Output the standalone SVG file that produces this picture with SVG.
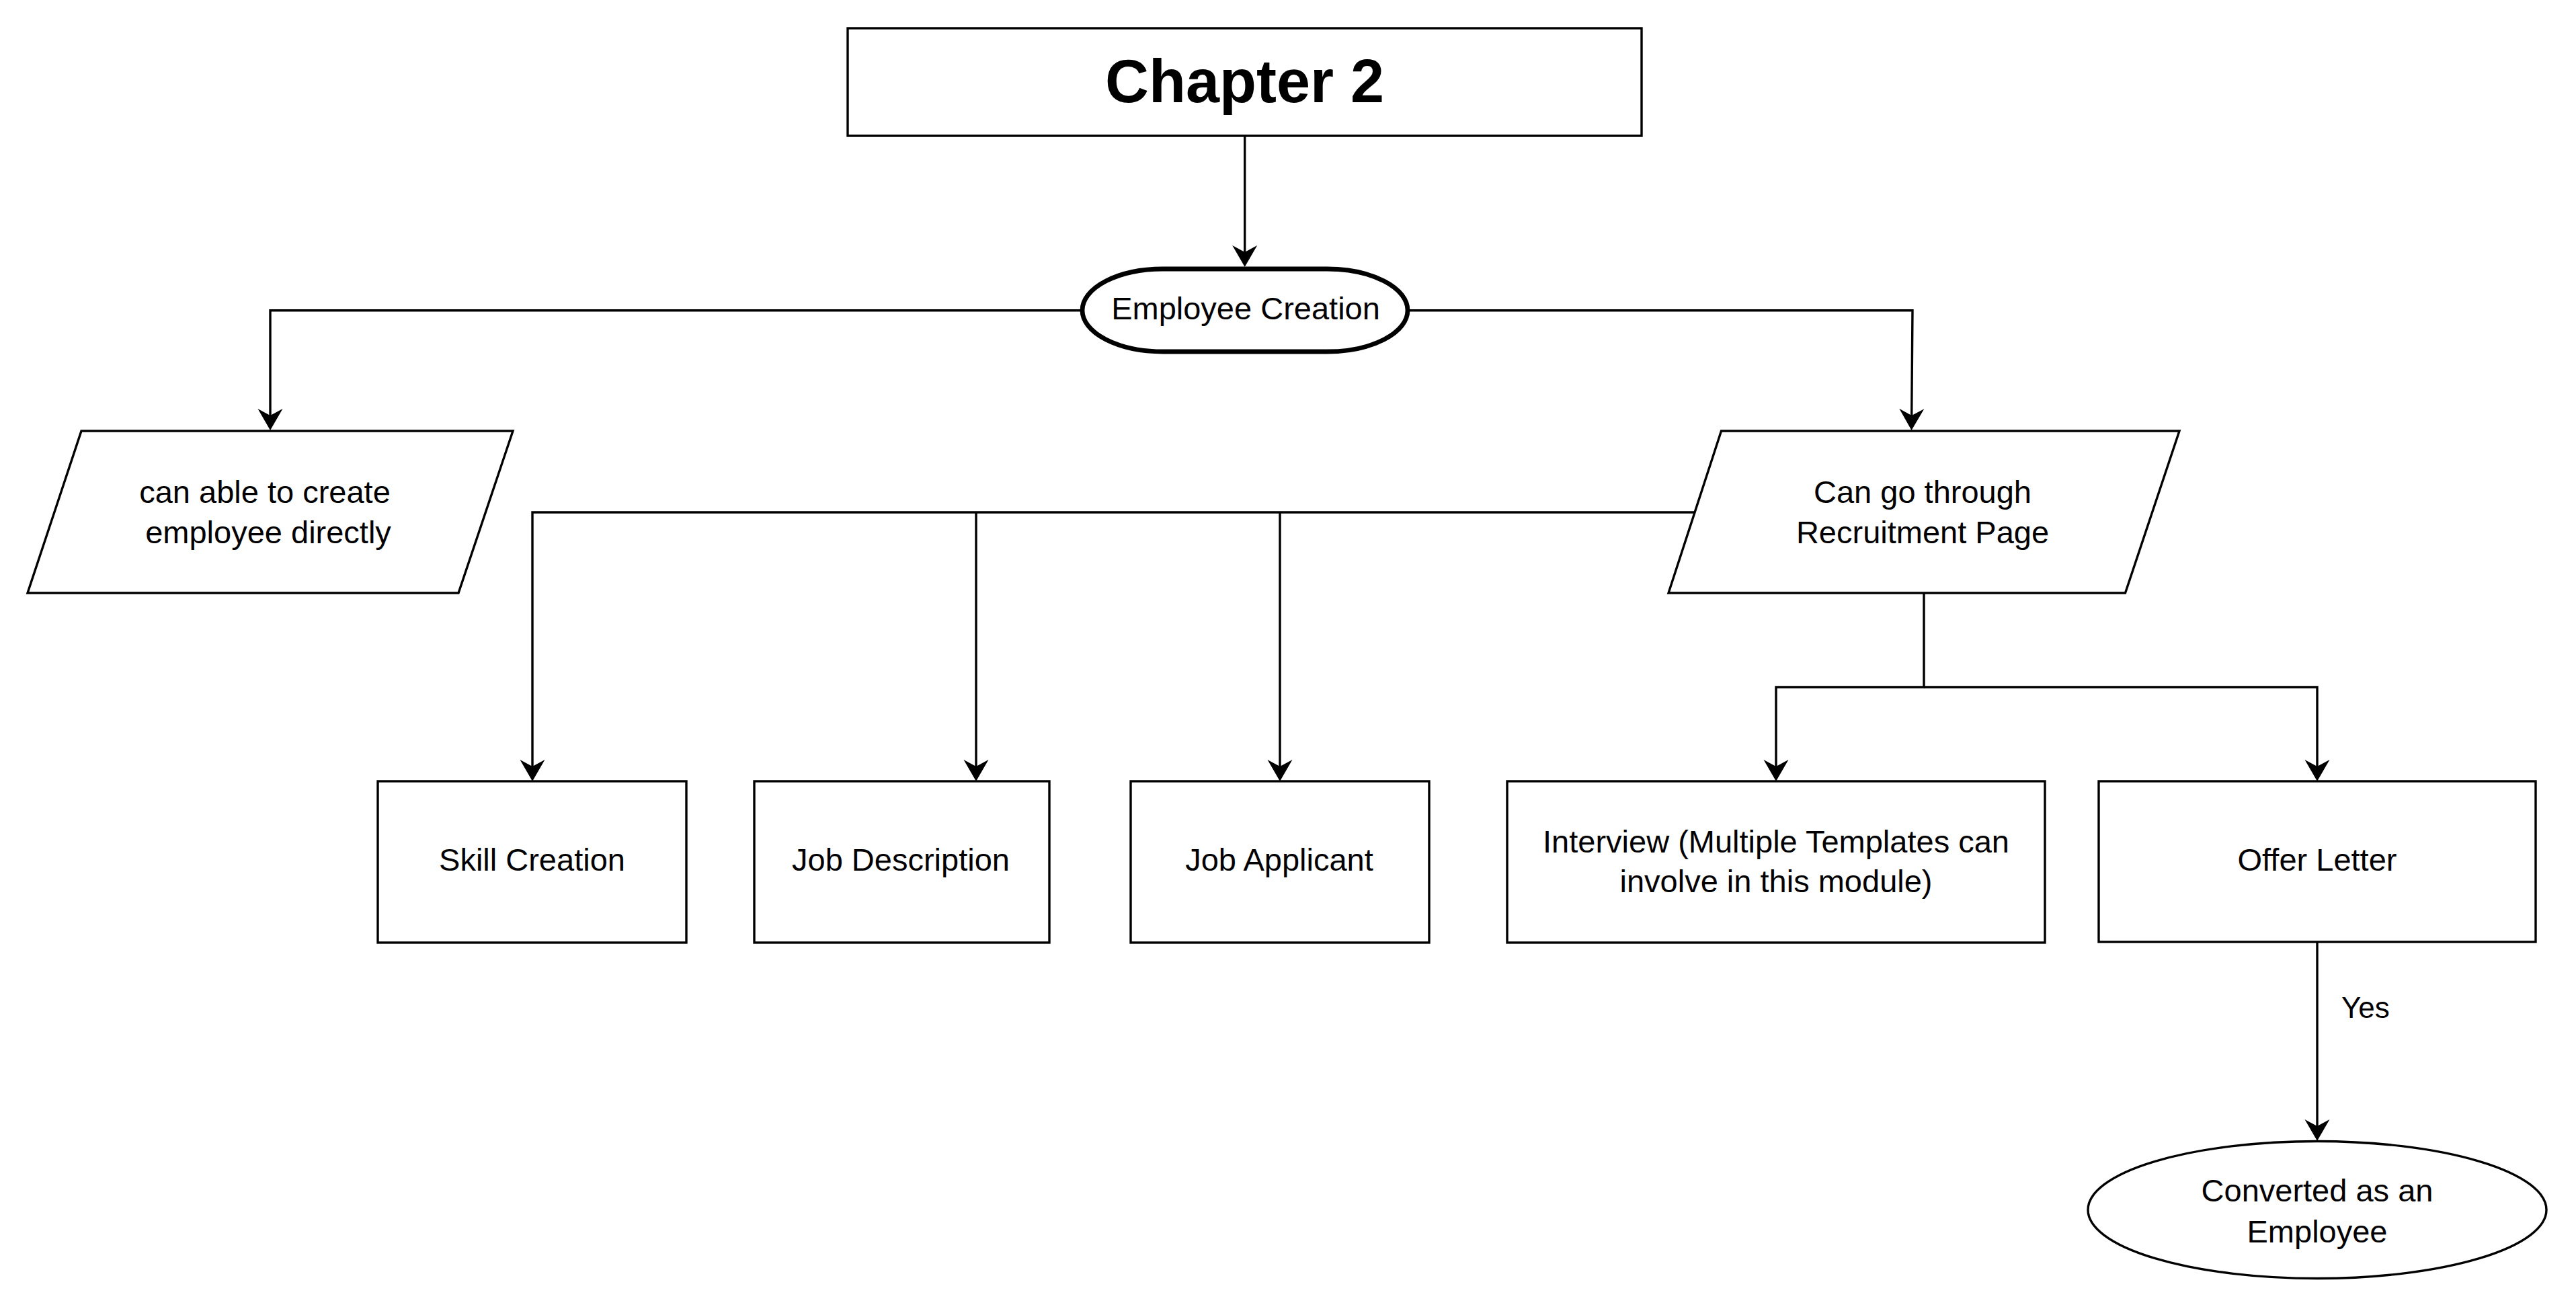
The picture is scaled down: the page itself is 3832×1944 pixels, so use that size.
<svg xmlns="http://www.w3.org/2000/svg" width="3832" height="1944" viewBox="0 0 3832 1944">
  <style>
    .shape { fill: #ffffff; stroke: #000000; stroke-width: 3.4; }
    .thick { stroke-width: 6.8; }
    .edge { fill: none; stroke: #000000; stroke-width: 3.4; }
    .arrow { marker-end: url(#arrowhead); }
    text { font-family: "Liberation Sans", Arial, sans-serif; font-size: 47px; fill: #000000; text-anchor: middle; }
    .title { font-size: 90px; font-weight: bold; }
    .label { font-size: 44px; text-anchor: start; }
  </style>
  <defs>
    <!-- classic notched arrowhead; path ends at the notch, tip sits 22px ahead -->
    <marker id="arrowhead" markerUnits="userSpaceOnUse" viewBox="-12 -20 36 40" refX="0" refY="0" markerWidth="36" markerHeight="40" orient="auto" overflow="visible">
      <path d="M22,0 L-10,-18.5 L0,0 L-10,18.5 Z" fill="#000000"/>
    </marker>
  </defs>
  <rect width="3832" height="1944" fill="#ffffff"/>

  <g id="connectors">
    <path class="edge arrow" d="M1851.7,202 V375"/>
    <path class="edge arrow" d="M1610,461.7 H402 V618"/>
    <path class="edge arrow" d="M2094,461.7 H2845 L2843.7,618"/>
    <path class="edge arrow" d="M2521,762 H792 V1140"/>
    <path class="edge arrow" d="M1452,762 V1140"/>
    <path class="edge arrow" d="M1904,762 V1140"/>
    <path class="edge arrow" d="M2862,882 V1022 H2642 V1140"/>
    <path class="edge arrow" d="M2862,1022 H3447 V1140"/>
    <path class="edge arrow" d="M3447,1401 V1675"/>
    <text class="label" x="3483" y="1514">Yes</text>
  </g>

  <g id="chapter">
    <rect class="shape" x="1261" y="42" width="1181" height="160"/>
    <text class="title" x="1851.5" y="152">Chapter 2</text>
  </g>

  <g id="employee-creation">
    <rect class="shape thick" x="1610" y="400" width="484" height="123" rx="120" ry="61.5"/>
    <text x="1853" y="475">Employee Creation</text>
  </g>

  <g id="direct-create">
    <polygon class="shape" points="121,641 763,641 682,882 41,882"/>
    <text x="394" y="748">can able to create</text>
    <text x="399" y="808">employee directly</text>
  </g>

  <g id="recruitment-page">
    <polygon class="shape" points="2560.5,641 3242,641 3161.5,882 2482,882"/>
    <text x="2860" y="748">Can go through</text>
    <text x="2860" y="808">Recruitment Page</text>
  </g>

  <g id="skill-creation">
    <rect class="shape" x="562" y="1162" width="459" height="240"/>
    <text x="791.5" y="1295">Skill Creation</text>
  </g>

  <g id="job-description">
    <rect class="shape" x="1122" y="1162" width="439" height="240"/>
    <text x="1340" y="1295">Job Description</text>
  </g>

  <g id="job-applicant">
    <rect class="shape" x="1682" y="1162" width="444" height="240"/>
    <text x="1903" y="1295">Job Applicant</text>
  </g>

  <g id="interview">
    <rect class="shape" x="2242" y="1162" width="800" height="240"/>
    <text x="2642" y="1268">Interview (Multiple Templates can</text>
    <text x="2642" y="1327">involve in this module)</text>
  </g>

  <g id="offer-letter">
    <rect class="shape" x="3122" y="1162" width="650" height="239"/>
    <text x="3447" y="1295">Offer Letter</text>
  </g>

  <g id="converted">
    <ellipse class="shape" cx="3447" cy="1799.5" rx="341" ry="102"/>
    <text x="3447" y="1787">Converted as an</text>
    <text x="3447" y="1848">Employee</text>
  </g>
</svg>
